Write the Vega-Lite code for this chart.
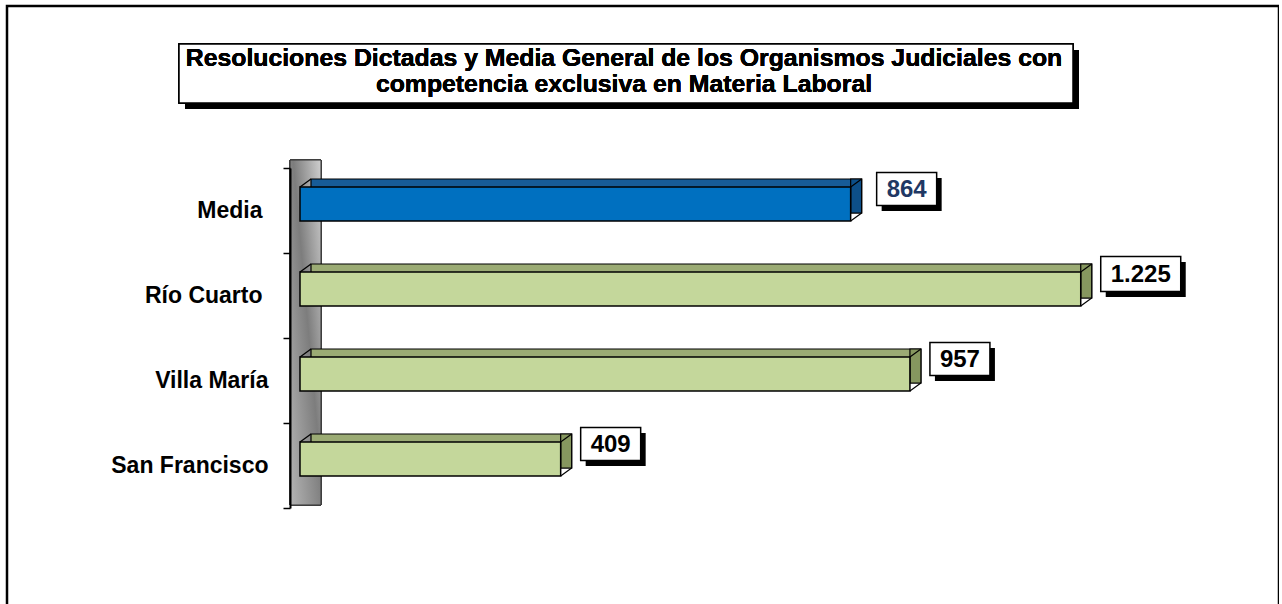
{
  "$schema": "https://vega.github.io/schema/vega-lite/v6.json",
  "autosize": "none",
  "padding": {"left": 7, "top": 6, "right": 0, "bottom": 0},
  "width": 1272,
  "height": 620,
  "background": "white",
  "view": {"stroke": "black", "strokeWidth": 2.5},
  "config": {
    "locale": {"number": {"decimal": ",", "thousands": ".", "grouping": [3], "currency": ["$", ""]}},
    "font": "Liberation Sans"
  },
  "data": {
    "values": [
      {"categoria": "Media", "valor": 864, "tipo": "media"},
      {"categoria": "Río Cuarto", "valor": 1225, "tipo": "juzgado"},
      {"categoria": "Villa María", "valor": 957, "tipo": "juzgado"},
      {"categoria": "San Francisco", "valor": 409, "tipo": "juzgado"}
    ]
  },
  "layer": [
    {
      "mark": {"type": "rect", "fill": "black", "height": 59, "xOffset": -115, "x2Offset": 779, "yOffset": -131},
      "encoding": {
        "x": {"datum": 0, "type": "quantitative", "scale": {"domain": [0, 1500], "range": [293, 1249], "nice": false, "zero": false}, "axis": null},
        "x2": {"datum": 0},
        "y": {"datum": "Media", "type": "nominal", "title": null, "scale": {"type": "band", "domain": ["Media", "Río Cuarto", "Villa María", "San Francisco"], "range": [162, 502], "paddingInner": 0, "paddingOuter": 0}}
      }
    },
    {
      "mark": {"type": "rect", "fill": "white", "stroke": "black", "strokeWidth": 1.5, "height": 59, "xOffset": -121, "x2Offset": 773, "yOffset": -137},
      "encoding": {
        "x": {"datum": 0, "type": "quantitative", "axis": null},
        "x2": {"datum": 0},
        "y": {"datum": "Media", "type": "nominal", "title": null}
      }
    },
    {
      "mark": {"type": "text", "font": "Liberation Sans", "fontWeight": "bold", "fontSize": 24.8, "align": "center", "baseline": "alphabetic", "lineHeight": 26, "dx": 324, "dy": -144.5, "color": "black"},
      "encoding": {
        "x": {"datum": 0, "type": "quantitative", "axis": null},
        "y": {"datum": "Media", "type": "nominal", "title": null},
        "text": {"value": ["Resoluciones Dictadas y Media General de los Organismos Judiciales con", "competencia exclusiva en Materia Laboral"]}
      }
    },
    {
      "mark": {"type": "rect", "height": 345, "yOffset": 122, "xOffset": -10, "x2Offset": 21, "stroke": "#333333", "strokeWidth": 1,
        "fill": {"gradient": "linear", "x1": 1, "y1": 0, "x2": 0, "y2": 1, "stops": [{"offset": 0, "color": "#cfcfcf"}, {"offset": 0.45, "color": "#7d7d7d"}, {"offset": 1, "color": "#b5b5b5"}]}},
      "encoding": {
        "x": {"datum": 0, "type": "quantitative", "axis": null},
        "x2": {"datum": 0},
        "y": {"datum": "Media", "type": "nominal", "title": null}
      }
    },
    {
      "mark": {"type": "rect", "height": 34, "xOffset": 11, "x2Offset": 11, "yOffset": -14.5, "stroke": "black", "strokeWidth": 1.2},
      "encoding": {
        "x": {"field": "valor", "type": "quantitative", "axis": null},
        "x2": {"datum": 0},
        "y": {"field": "categoria", "type": "nominal", "title": null},
        "fill": {"condition": {"test": "datum.tipo == 'media'", "value": "#175c98"}, "value": "#9bab74"}
      }
    },
    {
      "mark": {"type": "rect", "height": 34, "xOffset": 0, "x2Offset": 11, "yOffset": -14.5, "stroke": "black", "strokeWidth": 1.2},
      "encoding": {
        "x": {"field": "valor", "type": "quantitative", "axis": null},
        "x2": {"field": "valor"},
        "y": {"field": "categoria", "type": "nominal", "title": null},
        "fill": {"condition": {"test": "datum.tipo == 'media'", "value": "#0d4f88"}, "value": "#86975f"}
      }
    },
    {
      "mark": {"type": "rect", "height": 34, "yOffset": -6.5, "stroke": "black", "strokeWidth": 1.5},
      "encoding": {
        "x": {"field": "valor", "type": "quantitative", "axis": null},
        "x2": {"datum": 0},
        "y": {
          "field": "categoria", "type": "nominal", "title": null,
          "axis": {
            "offset": -283, "zindex": 1, "domainColor": "black", "domainWidth": 2, "tickColor": "black", "tickWidth": 1.5, "tickSize": 7, "tickBand": "extent",
            "labelFont": "Liberation Sans", "labelFontWeight": "bold", "labelFontSize": 23, "labelColor": "black", "labelLimit": 400,
            "labelPadding": {"condition": {"test": "datum.value == 'Media' || datum.value == 'Río Cuarto'", "value": 21}, "value": 15}
          }
        },
        "fill": {"condition": {"test": "datum.tipo == 'media'", "value": "#0070c0"}, "value": "#c4d79b"}
      }
    },
    {
      "mark": {"type": "rule", "color": "black", "strokeWidth": 1.2, "x2Offset": 11, "yOffset": -23.5, "y2Offset": -31.5},
      "encoding": {
        "x": {"datum": 0, "type": "quantitative", "axis": null},
        "x2": {"datum": 0},
        "y": {"field": "categoria", "type": "nominal", "title": null, "bandPosition": 0.5},
        "y2": {"field": "categoria"}
      }
    },
    {
      "mark": {"type": "rule", "color": "black", "strokeWidth": 1.2, "x2Offset": 11, "yOffset": -23.5, "y2Offset": -31.5},
      "encoding": {
        "x": {"field": "valor", "type": "quantitative", "axis": null},
        "x2": {"field": "valor"},
        "y": {"field": "categoria", "type": "nominal", "title": null, "bandPosition": 0.5},
        "y2": {"field": "categoria"}
      }
    },
    {
      "mark": {"type": "rule", "color": "black", "strokeWidth": 1.2, "x2Offset": 11, "yOffset": 10.5, "y2Offset": 2.5},
      "encoding": {
        "x": {"field": "valor", "type": "quantitative", "axis": null},
        "x2": {"field": "valor"},
        "y": {"field": "categoria", "type": "nominal", "title": null, "bandPosition": 0.5},
        "y2": {"field": "categoria"}
      }
    },
    {
      "transform": [{"filter": "datum.tipo == 'media'"}],
      "mark": {"type": "rect", "fill": "black", "height": 33, "xOffset": 31, "x2Offset": 91, "yOffset": -16},
      "encoding": {
        "x": {"field": "valor", "type": "quantitative", "axis": null},
        "x2": {"field": "valor"},
        "y": {"field": "categoria", "type": "nominal", "title": null}
      }
    },
    {
      "transform": [{"filter": "datum.tipo == 'media'"}],
      "mark": {"type": "rect", "fill": "white", "stroke": "black", "strokeWidth": 1.5, "height": 33, "xOffset": 26, "x2Offset": 86, "yOffset": -21.5},
      "encoding": {
        "x": {"field": "valor", "type": "quantitative", "axis": null},
        "x2": {"field": "valor"},
        "y": {"field": "categoria", "type": "nominal", "title": null}
      }
    },
    {
      "transform": [{"filter": "datum.tipo != 'media' && datum.valor < 1000"}],
      "mark": {"type": "rect", "fill": "black", "height": 33, "xOffset": 25, "x2Offset": 85, "yOffset": -16},
      "encoding": {
        "x": {"field": "valor", "type": "quantitative", "axis": null},
        "x2": {"field": "valor"},
        "y": {"field": "categoria", "type": "nominal", "title": null}
      }
    },
    {
      "transform": [{"filter": "datum.tipo != 'media' && datum.valor < 1000"}],
      "mark": {"type": "rect", "fill": "white", "stroke": "black", "strokeWidth": 1.5, "height": 33, "xOffset": 20, "x2Offset": 80, "yOffset": -21.5},
      "encoding": {
        "x": {"field": "valor", "type": "quantitative", "axis": null},
        "x2": {"field": "valor"},
        "y": {"field": "categoria", "type": "nominal", "title": null}
      }
    },
    {
      "transform": [{"filter": "datum.valor >= 1000"}],
      "mark": {"type": "rect", "fill": "black", "height": 35, "xOffset": 25, "x2Offset": 105, "yOffset": -16},
      "encoding": {
        "x": {"field": "valor", "type": "quantitative", "axis": null},
        "x2": {"field": "valor"},
        "y": {"field": "categoria", "type": "nominal", "title": null}
      }
    },
    {
      "transform": [{"filter": "datum.valor >= 1000"}],
      "mark": {"type": "rect", "fill": "white", "stroke": "black", "strokeWidth": 1.5, "height": 35, "xOffset": 20, "x2Offset": 100, "yOffset": -21.5},
      "encoding": {
        "x": {"field": "valor", "type": "quantitative", "axis": null},
        "x2": {"field": "valor"},
        "y": {"field": "categoria", "type": "nominal", "title": null}
      }
    },
    {
      "transform": [{"filter": "datum.tipo == 'media'"}],
      "mark": {"type": "text", "font": "Liberation Sans", "fontWeight": "bold", "fontSize": 24, "align": "center", "baseline": "middle", "dx": 56, "dy": -20.5, "color": "#1f3864"},
      "encoding": {
        "x": {"field": "valor", "type": "quantitative", "axis": null},
        "y": {"field": "categoria", "type": "nominal", "title": null},
        "text": {"field": "valor", "type": "quantitative", "format": ",d"}
      }
    },
    {
      "transform": [{"filter": "datum.tipo != 'media' && datum.valor < 1000"}],
      "mark": {"type": "text", "font": "Liberation Sans", "fontWeight": "bold", "fontSize": 24, "align": "center", "baseline": "middle", "dx": 50, "dy": -20.5, "color": "black"},
      "encoding": {
        "x": {"field": "valor", "type": "quantitative", "axis": null},
        "y": {"field": "categoria", "type": "nominal", "title": null},
        "text": {"field": "valor", "type": "quantitative", "format": ",d"}
      }
    },
    {
      "transform": [{"filter": "datum.valor >= 1000"}],
      "mark": {"type": "text", "font": "Liberation Sans", "fontWeight": "bold", "fontSize": 24, "align": "center", "baseline": "middle", "dx": 60, "dy": -20.5, "color": "black"},
      "encoding": {
        "x": {"field": "valor", "type": "quantitative", "axis": null},
        "y": {"field": "categoria", "type": "nominal", "title": null},
        "text": {"field": "valor", "type": "quantitative", "format": ",d"}
      }
    }
  ]
}
